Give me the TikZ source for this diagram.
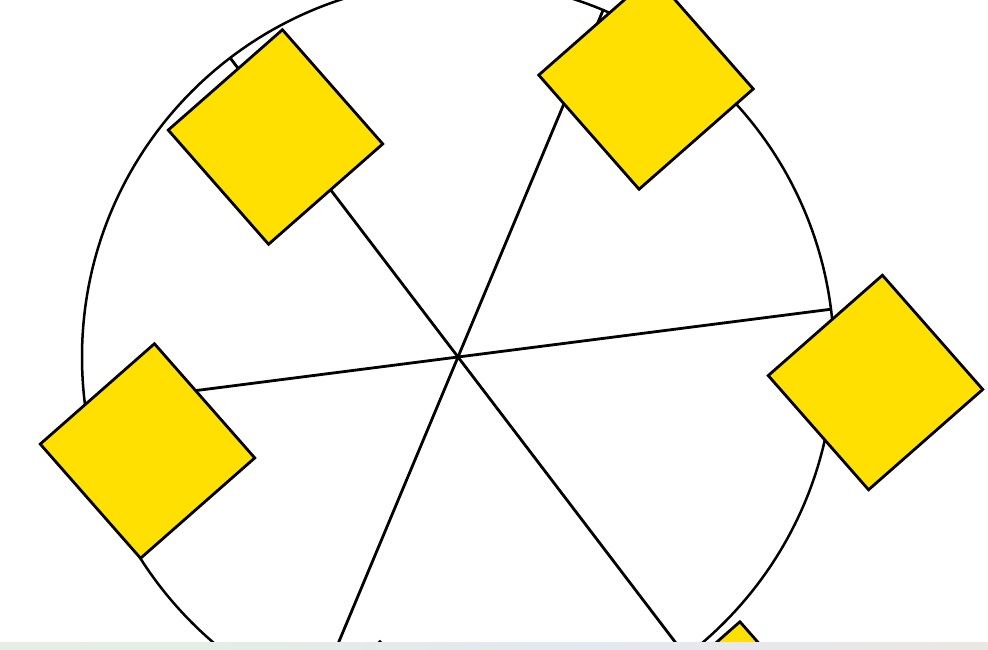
\documentclass[tikz,border=0pt]{standalone}
\usetikzlibrary{calc}
\definecolor{sqyellow}{RGB}{255,224,0}
\definecolor{barA}{RGB}{236,236,232}
\definecolor{barB}{RGB}{226,238,230}
\definecolor{barC}{RGB}{228,232,240}
\definecolor{barD}{RGB}{234,232,228}
\definecolor{barE}{RGB}{240,226,228}
\pgfdeclarehorizontalshading{barshade}{100bp}{color(0bp)=(barA); color(35bp)=(barB); color(55bp)=(barC); color(75bp)=(barD); color(100bp)=(barE)}
\tikzset{
  ring/.style={draw=black, line width=2.5pt},
  spoke/.style={draw=black, line width=2.8pt},
  yellowsq/.style={draw=black, line width=2.8pt, fill=sqyellow, rectangle,
    minimum size=152pt, inner sep=0pt, rotate=41.3},
}
\begin{document}
\begin{tikzpicture}[x=1pt,y=-1pt]
\useasboundingbox (0,0) rectangle (988,650);
\clip (0,0) rectangle (988,650);
\fill[white] (0,0) rectangle (988,650);
\coordinate (c) at (458,357);
\draw[ring] (c) circle[radius=376pt];
\foreach \a [count=\i] in {7.3,67.3,127.3,187.3,247.3,307.3}{
  \coordinate (e\i) at ([shift={(\a:376pt)}]c);
  \draw[spoke] (c) -- (e\i);
}
\node[yellowsq] (s1) at (275.5,137) {};
\node[yellowsq] (s2) at (646,82) {};
\node[yellowsq] (s3) at (875.5,382.5) {};
\node[yellowsq] (s4) at (147.5,451) {};
\node[yellowsq] (s5) at (733,729) {};
\node[yellowsq] (s6) at (373,749) {};
\node[shading=barshade, minimum width=988pt, minimum height=8pt, inner sep=0pt, outer sep=0pt, anchor=north west] (bar) at (0,642) {};
\end{tikzpicture}
\end{document}
